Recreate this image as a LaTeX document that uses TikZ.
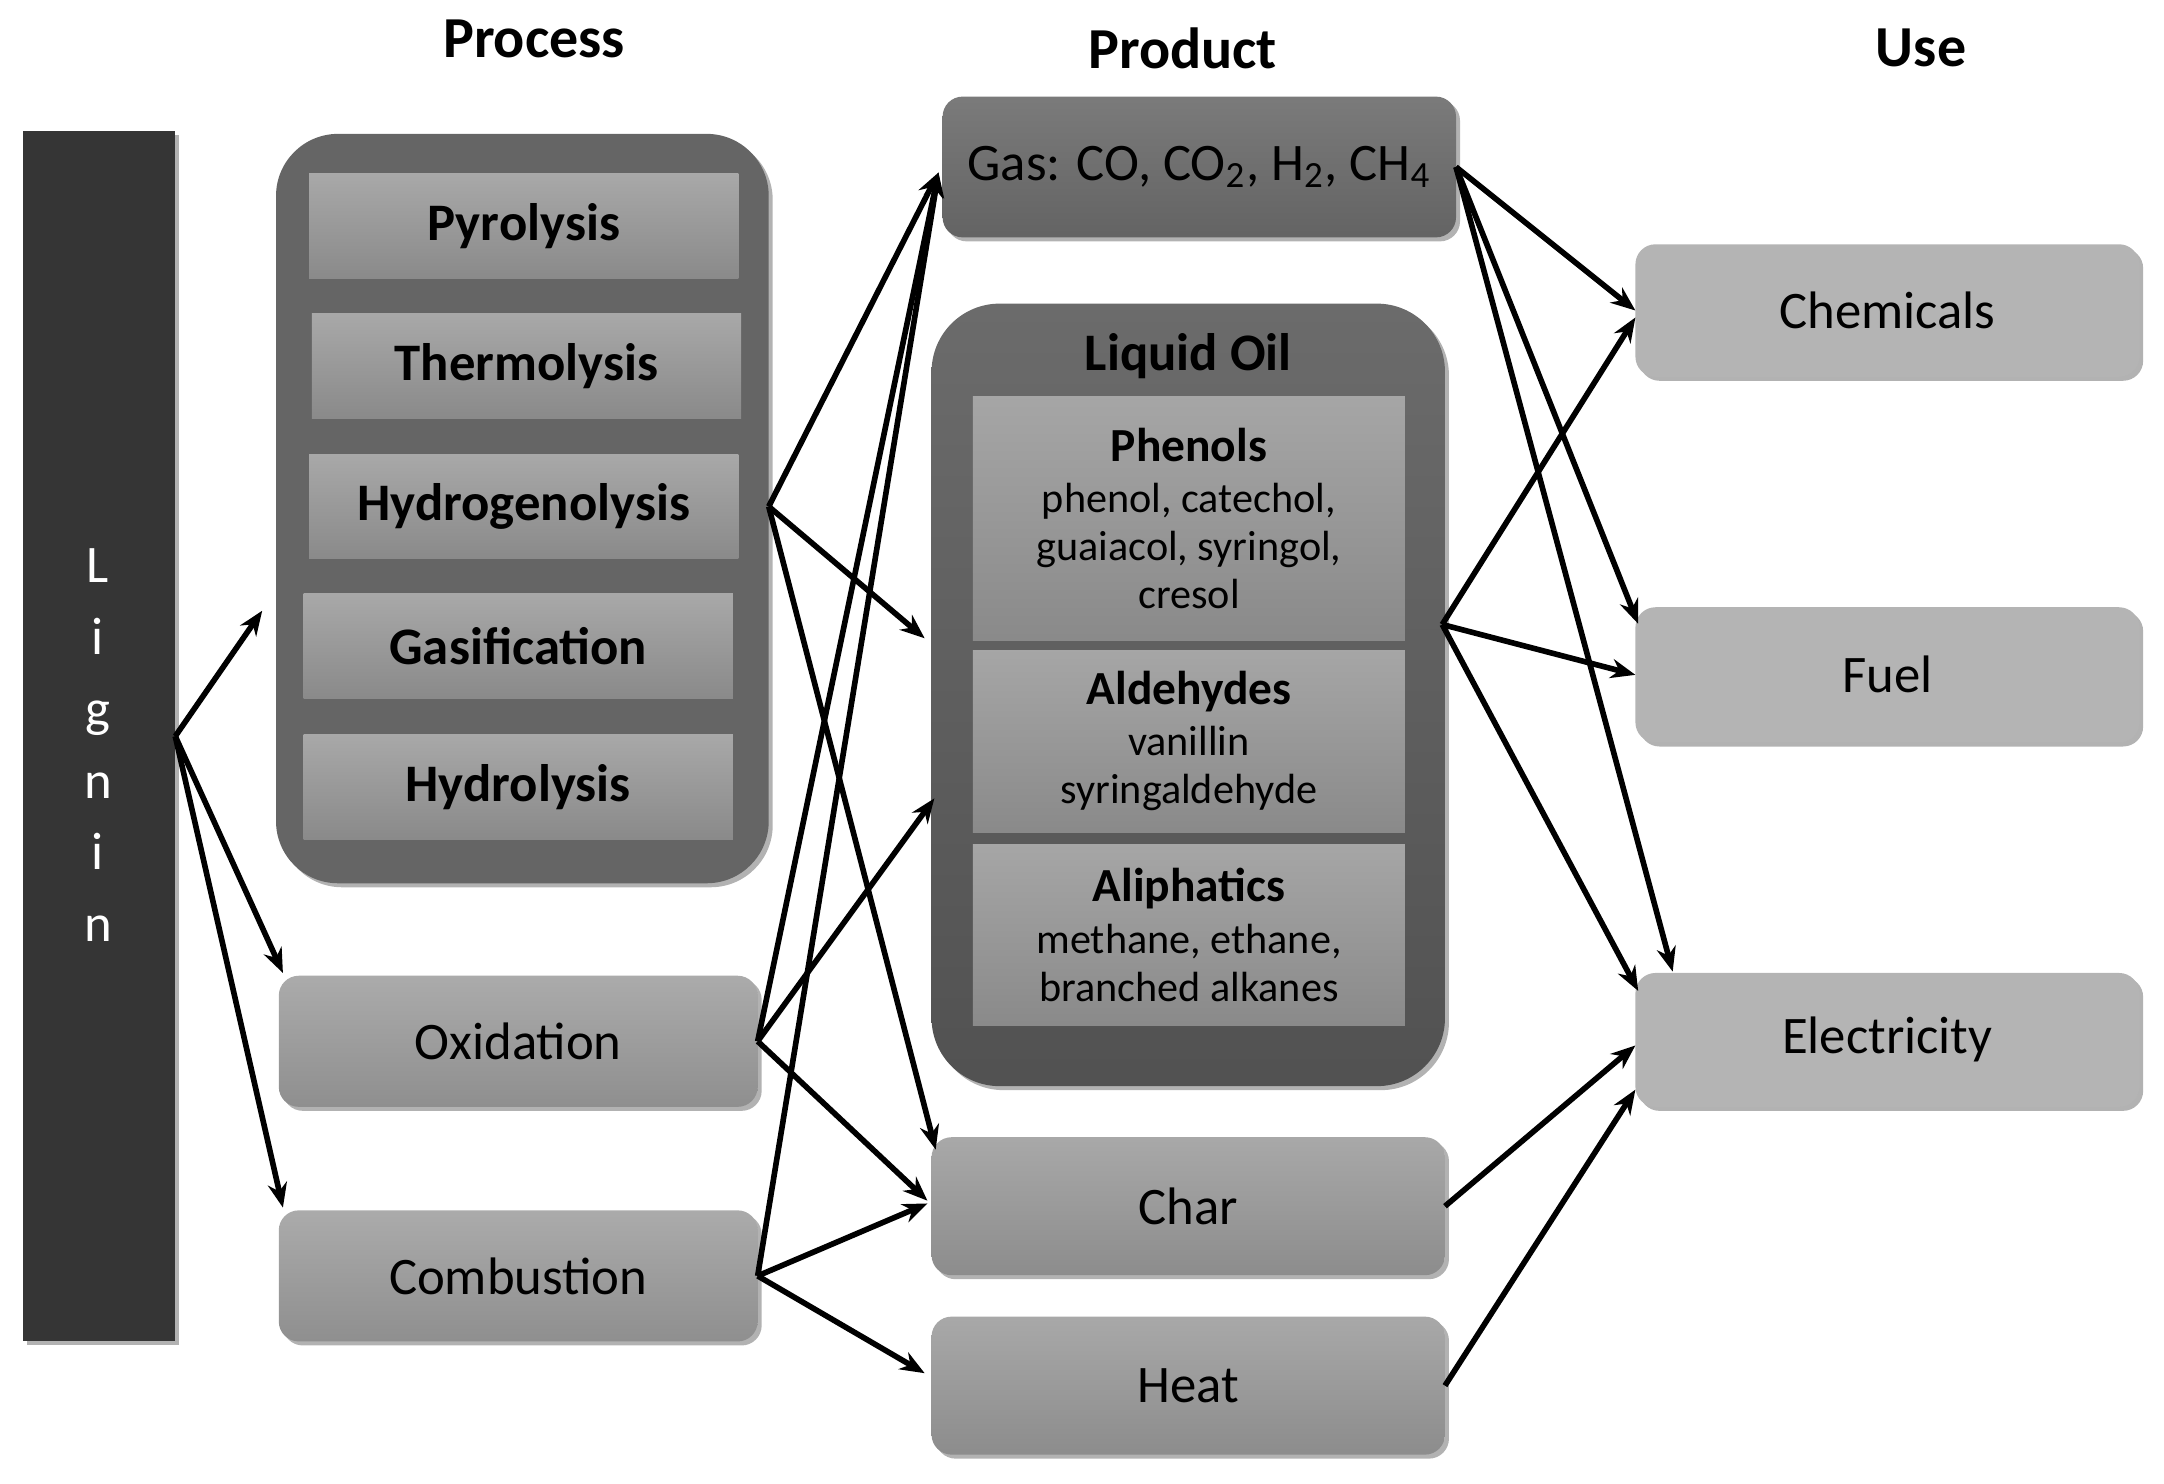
\documentclass[tikz,border=0pt]{standalone}
\usepackage{fontspec}
\setmainfont{Carlito}
\usetikzlibrary{calc,shadows,arrows.meta}
\definecolor{ligc}{HTML}{353535}
\definecolor{grpc}{HTML}{656565}
\definecolor{usec}{HTML}{B4B4B4}
\newcommand\mybox[7]{\node[#1, minimum width={(#5-#3)*0.0138cm}, minimum height={(#6-#4)*0.0138cm}] (#2) at ({(#3+#5)/2},{(#4+#6)/2}) {#7};}
\begin{document}
\begin{tikzpicture}[x=0.0138cm,y=-0.0138cm,
  every node/.style={inner sep=0pt, outer sep=0pt, align=center},
  shad/.style={drop shadow={shadow xshift=0.04cm, shadow yshift=-0.04cm, opacity=0.3, fill=black}},
  ligbox/.style={fill=ligc, shad},
  grpbox/.style={fill=grpc, rounded corners=0.62cm, shad},
  innerbox/.style={top color=black!34, bottom color=black!46, font=\bfseries\fontsize{15}{18}\selectfont},
  procbox/.style={rounded corners=0.2cm, top color=black!33, bottom color=black!44, shad, font=\fontsize{15}{18}\selectfont},
  gasbox/.style={rounded corners=0.2cm, top color=black!52, bottom color=black!61, shad, font=\fontsize{15}{18}\selectfont},
  oilgrp/.style={rounded corners=0.68cm, top color=black!58, bottom color=black!68, shad},
  oilin/.style={top color=black!35, bottom color=black!46, font=\fontsize{12}{13.6}\selectfont},
  prodbox/.style={rounded corners=0.2cm, top color=black!34, bottom color=black!45, shad, font=\fontsize{15}{18}\selectfont},
  usebox/.style={rounded corners=0.2cm, fill=usec, shad, font=\fontsize{15}{18}\selectfont},
  titlef/.style={font=\bfseries\fontsize{16.5}{20}\selectfont},
  arr/.style={line width=1.6pt, -{Stealth[length=7pt,width=5.5pt]}}
]
\useasboundingbox (0,0) rectangle (1568,1075);
% titles
\node[titlef] (tproc) at (387,28) {Process};
\node[titlef] (tprod) at (857,35) {Product};
\node[titlef] (tuse) at (1392,35) {Use};
% lignin
\mybox{ligbox}{lignin}{17}{95}{127}{972}{}
\node[text=white, font=\fontsize{15}{20.4}\selectfont] (ligtxt) at (71,540) {L\\i\\g\\n\\i\\n};
% process group
\mybox{grpbox}{procgrp}{200}{97}{557}{640}{}
\mybox{innerbox}{pyro}{224}{126}{535}{202}{Pyrolysis}
\mybox{innerbox}{thermo}{226}{227}{537}{303}{Thermolysis}
\mybox{innerbox}{hydro}{224}{329}{535}{405}{Hydrogenolysis}
\mybox{innerbox}{gasif}{220}{430}{531}{506}{Gasification}
\mybox{innerbox}{hydrol}{220}{532}{531}{608}{Hydrolysis}
\mybox{procbox}{ox}{202}{707}{549}{802}{Oxidation}
\mybox{procbox}{comb}{202}{877}{549}{972}{Combustion}
% products
\mybox{gasbox}{gas}{683}{70}{1055}{172}{Gas: CO, CO\textsubscript{2}, H\textsubscript{2}, CH\textsubscript{4}}
\mybox{oilgrp}{oil}{675}{220}{1047}{787}{}
\node[font=\bfseries\fontsize{15}{18}\selectfont] (oiltitle) at (861,258) {Liquid Oil};
\mybox{oilin}{phen}{705}{287}{1018}{464}{{\bfseries\fontsize{13.5}{16}\selectfont Phenols}\\[1pt] phenol, catechol,\\ guaiacol, syringol,\\ cresol}
\mybox{oilin}{ald}{705}{471}{1018}{603}{{\bfseries\fontsize{13.5}{16}\selectfont Aldehydes}\\[1pt] vanillin\\ syringaldehyde}
\mybox{oilin}{aliph}{705}{612}{1018}{743}{{\bfseries\fontsize{13.5}{16}\selectfont Aliphatics}\\[1pt] methane, ethane,\\ branched alkanes}
\mybox{prodbox}{char}{675}{824}{1047}{924}{Char}
\mybox{prodbox}{heat}{675}{954}{1047}{1054}{Heat}
% uses
\mybox{usebox}{chem}{1185}{177}{1550}{273}{Chemicals}
\mybox{usebox}{fuel}{1185}{440}{1550}{538}{Fuel}
\mybox{usebox}{elec}{1185}{705}{1550}{802}{Electricity}
% arrows from lignin
\draw[arr] (lignin.east) -- ($(procgrp.west)+(-10,74)$);
\draw[arr] (lignin.east) -- ($(ox.north west)+(3,-2)$);
\draw[arr] (lignin.east) -- ($(comb.north west)+(3,-2)$);
% from hydrogenolysis
\coordinate (hyd) at (procgrp.east |- hydro.east);
\draw[arr] (hyd) -- ($(gas.west)+(-3,4)$);
\draw[arr] (hyd) -- ($(oil.west)+(-5,-41)$);
\draw[arr] (hyd) -- ($(char.north west)+(3,9)$);
% from oxidation
\draw[arr] (ox.east) -- ($(gas.west)+(-3,4)$);
\draw[arr] (ox.east) -- ($(oil.west)+(2,75)$);
\draw[arr] (ox.east) -- ($(char.west)+(-3,-4)$);
% from combustion
\draw[arr] (comb.east) -- ($(gas.west)+(-3,4)$);
\draw[arr] (comb.east) -- ($(char.west)+(-3,-2)$);
\draw[arr] (comb.east) -- ($(heat.west)+(-5,-9)$);
% from gas
\draw[arr] (gas.east) -- (chem.west);
\draw[arr] (gas.east) -- ($(fuel.north west)+(2,12)$);
\draw[arr] (gas.east) -- ($(elec.north west)+(27,-1)$);
% from liquid oil
\coordinate (oilr) at ($(oil.east)+(-2,-51)$);
\draw[arr] (oilr) -- ($(chem.west)+(0,5)$);
\draw[arr] (oilr) -- (fuel.west);
\draw[arr] (oilr) -- ($(elec.north west)+(2,13)$);
% char, heat
\draw[arr] (char.east) -- ($(elec.west)+(0,4)$);
\draw[arr] (heat.east) -- ($(elec.west)+(0,36)$);
\end{tikzpicture}
\end{document}
